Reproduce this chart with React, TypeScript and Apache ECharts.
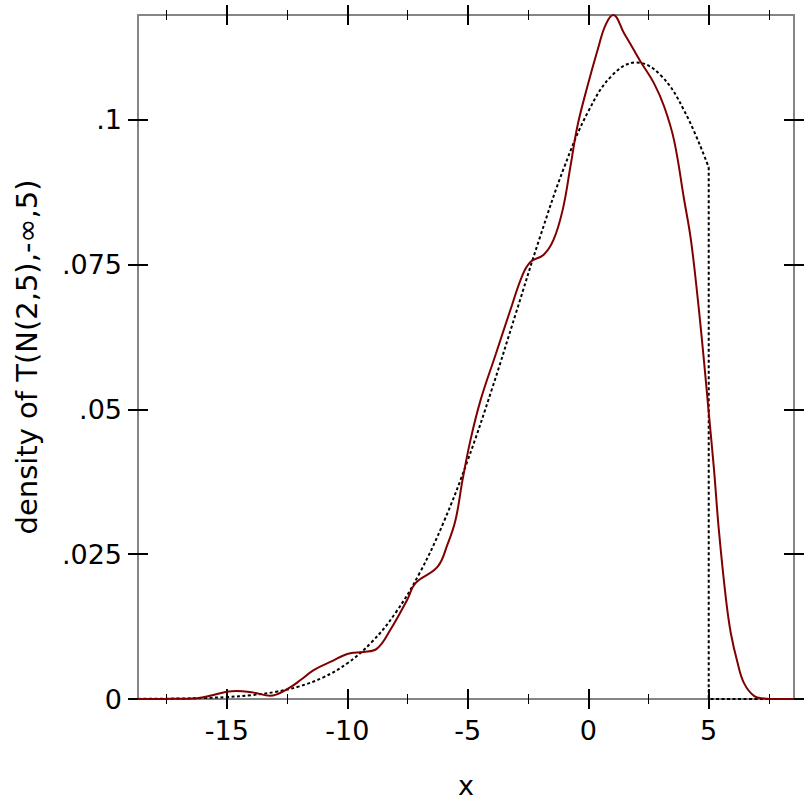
import React, { useEffect, useRef } from "react";
import * as echarts from "echarts";

// Kernel density (maroon)
const kdeX = [-18.69, -17.5, -16.8, -16.25, -15.56, -15.0, -14.6, -13.9, -13.2, -12.5, -11.9, -11.4, -10.71, -9.88, -9.33, -8.77, -8.22, -7.52, -7.17, -6.26, -5.85, -5.51, -5.22, -4.89, -4.47, -3.85, -3.23, -2.73, -2.39, -1.85, -1.44, -1.06, -0.73, -0.44, -0.02, 0.39, 0.72, 1.04, 1.48, 1.97, 2.18, 2.73, 3.15, 3.56, 3.98, 4.26, 4.55, 4.8, 5.0, 5.22, 5.42, 5.72, 5.92, 6.2, 6.47, 6.89, 7.3, 7.8, 8.54];
const kdeY = [0, 0.00002, 0.00005, 0.00012, 0.0007, 0.00126, 0.0014, 0.0011, 0.00057, 0.0017, 0.0034, 0.005, 0.0064, 0.0079, 0.0081, 0.0087, 0.0119, 0.0171, 0.02, 0.0228, 0.0266, 0.0309, 0.0378, 0.0447, 0.0516, 0.0594, 0.0672, 0.0732, 0.0755, 0.0767, 0.0793, 0.0845, 0.0922, 0.0991, 0.106, 0.1121, 0.1164, 0.1181, 0.115, 0.1115, 0.11, 0.1063, 0.1023, 0.0965, 0.0862, 0.0793, 0.0689, 0.0585, 0.0495, 0.0396, 0.0292, 0.0171, 0.0113, 0.0062, 0.0027, 0.0005, 0.0001, 0, 0];

// Truncated normal density (dotted)
const tnX = [-18.69, -18, -17, -16, -15, -14, -13, -12, -11, -10, -9, -8, -7, -6, -5, -4, -3, -2, -1, 0, 1, 2, 3, 4, 5];
const tnY = [0.00002, 0.00004, 0.00008, 0.00017, 0.00034, 0.00066, 0.00122, 0.00218, 0.00374, 0.00617, 0.00977, 0.01487, 0.02175, 0.03056, 0.04125, 0.05349, 0.06666, 0.0798, 0.0918, 0.10145, 0.10772, 0.1099, 0.10772, 0.10145, 0.0918];
const tnTailX = [5, 5, 8.54];
const tnTailY = [0.0918, 0, 0];

const xTicks = [-15, -10, -5, 0, 5];
const xTickLabels = ["-15", "-10", "-5", "0", "5"];
const yTicks = [0, 0.025, 0.05, 0.075, 0.1];
const yTickLabels = ["0", ".025", ".05", ".075", ".1"];

const X_MIN = -18.69;
const X_MAX = 8.54;
const Y_MIN = 0;
const Y_MAX = 0.1181;

const FONT = "DejaVu Sans";
const GRAY = "#858585";

export default function App() {
  const ref = useRef<HTMLDivElement>(null);
  useEffect(() => {
    if (!ref.current) return;
    const chart = echarts.init(ref.current, undefined, { renderer: "svg" });

    const xAxisBase = (position: "top" | "bottom", inside: boolean, main: boolean) => ({
      type: "value" as const,
      position,
      min: X_MIN,
      max: X_MAX,
      splitNumber: 5,
      splitLine: { show: false },
      axisLine: { show: !inside, onZero: false, lineStyle: { color: GRAY, width: 2 } },
      axisTick: { show: true, inside, length: 10, customValues: xTicks, lineStyle: { color: "#000", width: 2 } },
      minorTick: { show: true, splitNumber: 2, length: 5, lineStyle: { color: "#000", width: 1 } },
      axisLabel: {
        show: main,
        customValues: xTicks,
        margin: 18,
        fontSize: 27,
        fontFamily: FONT,
        color: "#000",
        formatter: (v: number) => {
          const i = xTicks.findIndex((t) => Math.abs(t - v) < 1e-9);
          return i >= 0 ? xTickLabels[i] : "";
        },
      },
      name: main ? "x" : "",
      nameLocation: "middle" as const,
      nameGap: 73,
      nameTextStyle: { fontSize: 27, fontFamily: FONT, color: "#000" },
    });

    const yAxisBase = (position: "left" | "right", inside: boolean, main: boolean) => ({
      type: "value" as const,
      position,
      min: Y_MIN,
      max: Y_MAX,
      splitLine: { show: false },
      axisLine: { show: !inside, onZero: false, lineStyle: { color: GRAY, width: 2 } },
      axisTick: { show: true, inside, length: 10, customValues: yTicks, lineStyle: { color: "#000", width: 2 } },
      minorTick: { show: false },
      axisLabel: {
        show: main,
        customValues: yTicks,
        margin: 16,
        fontSize: 27,
        fontFamily: FONT,
        color: "#000",
        formatter: (v: number) => {
          const i = yTicks.findIndex((t) => Math.abs(t - v) < 1e-9);
          return i >= 0 ? yTickLabels[i] : "";
        },
      },
      name: main ? "density of T(N(2,5),-∞,5)" : "",
      nameLocation: "middle" as const,
      nameGap: 97,
      nameTextStyle: { fontSize: 29, fontFamily: FONT, color: "#000" },
    });

    const zip = (xs: number[], ys: number[]) => xs.map((x, i) => [x, ys[i]]);

    chart.setOption({
      animation: false,
      backgroundColor: "#fff",
      grid: { left: 138, right: 18, top: 15, bottom: 113, containLabel: false },
      xAxis: [
        xAxisBase("bottom", false, true),
        xAxisBase("bottom", true, false),
        xAxisBase("top", false, false),
        xAxisBase("top", true, false),
      ],
      yAxis: [
        yAxisBase("left", false, true),
        yAxisBase("left", true, false),
        yAxisBase("right", false, false),
        yAxisBase("right", true, false),
      ],
      series: [
        {
          type: "line",
          data: zip(tnX, tnY),
          smooth: 0.4,
          showSymbol: false,
          lineStyle: { color: "#000", width: 2, type: [3, 2.5] },
          z: 2,
        },
        {
          type: "line",
          data: zip(tnTailX, tnTailY),
          showSymbol: false,
          lineStyle: { color: "#000", width: 2, type: [3, 2.5] },
          z: 2,
        },
        {
          type: "line",
          data: zip(kdeX, kdeY),
          smooth: 0.4,
          showSymbol: false,
          clip: false,
          lineStyle: { color: "#800000", width: 2 },
          z: 3,
        },
      ],
    });
    return () => chart.dispose();
  }, []);
  return <div ref={ref} style={{ position: "absolute", left: 0, top: 0, width: 812, height: 812 }} />;
}
